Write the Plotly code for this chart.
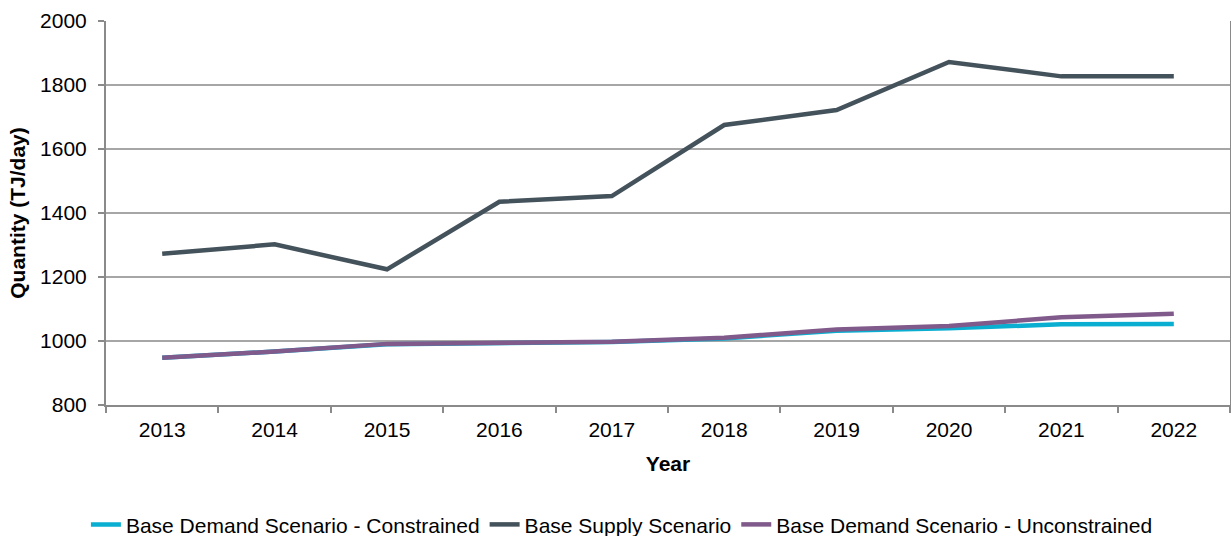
import plotly.graph_objects as go

# values (TJ/day)
years = ['2013', '2014', '2015', '2016', '2017', '2018', '2019', '2020', '2021', '2022']
demand_constrained = [948, 967, 990, 995, 997, 1008, 1032, 1040, 1052, 1053]
supply = [1273, 1302, 1224, 1435, 1453, 1675, 1722, 1872, 1827, 1827]
demand_unconstrained = [948, 967, 991, 996, 998, 1010, 1036, 1047, 1074, 1085]

font_family = 'Liberation Sans, Arial, sans-serif'
axis_grey = '#8a8a8a'


def main():
  fig = go.Figure()
  fig.add_trace(go.Scatter(
      x=years, y=demand_constrained, mode='lines',
      name='Base Demand Scenario - Constrained',
      line=dict(color='#0aaed0', width=4.5),
  ))
  fig.add_trace(go.Scatter(
      x=years, y=supply, mode='lines',
      name='Base Supply Scenario',
      line=dict(color='#44525c', width=4.5),
  ))
  fig.add_trace(go.Scatter(
      x=years, y=demand_unconstrained, mode='lines',
      name='Base Demand Scenario - Unconstrained',
      line=dict(color='#805a8a', width=4.5),
  ))

  fig.update_layout(
    width=1231,
    height=536,
    margin=dict(l=106, r=1, t=21, b=131),
    paper_bgcolor='white',
    plot_bgcolor='white',
    font=dict(family=font_family, size=21, color='black'),
    showlegend=True,
    # legend placed against the whole figure so it doesn't push the margins
    legend=dict(
      orientation='h', xref='paper', x=0.459, xanchor='center',
      yref='container', y=0.021, yanchor='middle',
      font=dict(size=21), tracegroupgap=0, itemwidth=30,
    ),
  )
  fig.update_xaxes(
    type='category',
    range=[-0.5, 9.5],
    tickson='boundaries',
    ticks='outside', ticklen=6, tickcolor=axis_grey, tickwidth=2,
    showline=True, linecolor=axis_grey, linewidth=2,
    showgrid=False,
    automargin=False,
    ticklabelstandoff=5,
    tickfont=dict(size=21),
    title=dict(text='<b>Year</b>', font=dict(size=21), standoff=16),
  )
  fig.update_yaxes(
    range=[800, 2000],
    dtick=200,
    ticks='outside', ticklen=6, tickcolor=axis_grey, tickwidth=2,
    showline=True, linecolor=axis_grey, linewidth=2, mirror=True,
    showgrid=True, gridcolor='#a6a6a6', gridwidth=1.5,
    zeroline=False,
    automargin=False,
    ticklabelstandoff=7,
    tickfont=dict(size=21),
    title=dict(text='<b>Quantity (TJ/day)</b>', font=dict(size=21), standoff=9),
  )

  # drop the default body margin so the figure fills the window exactly
  fig.write_html('out.html', config={'displayModeBar': False},
                 post_script="document.body.style.margin='0';")


if __name__ == '__main__':
  main()
